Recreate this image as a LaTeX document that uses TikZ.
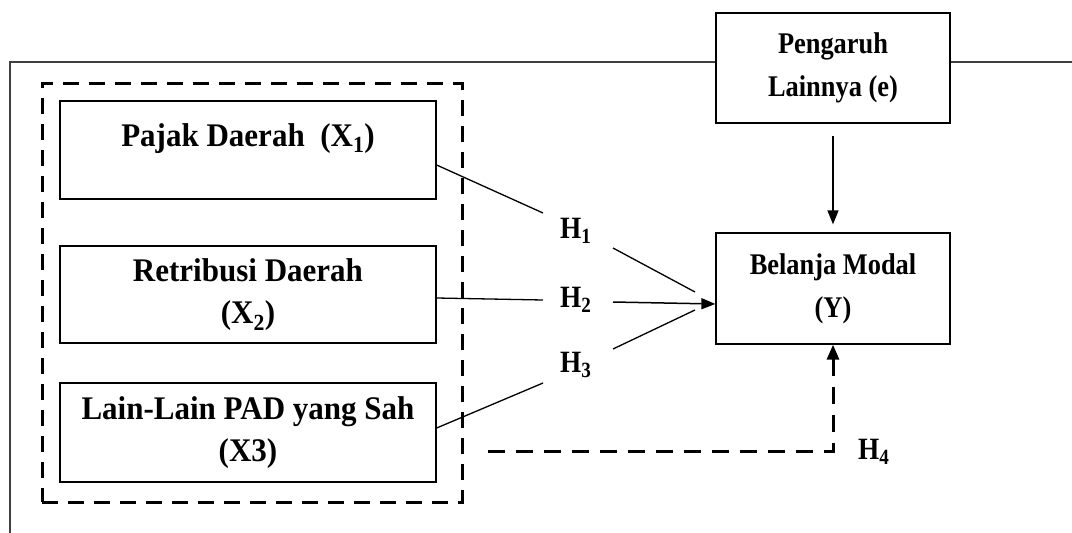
\documentclass[tikz,border=0pt]{standalone}
\usepackage{fontspec}
\setmainfont{Liberation Serif}
\newfontfamily\leftserif[FakeStretch=0.94]{Liberation Serif}
\newfontfamily\rightserif[FakeStretch=0.88]{Liberation Serif}
\usetikzlibrary{arrows.meta}
\begin{document}
\begin{tikzpicture}[x=1pt,y=-1pt,
  box/.style={draw, line width=1.3pt, fill=white, inner sep=0pt, align=center,
    minimum width=376pt, font=\leftserif\bfseries\fontsize{33}{42}\selectfont},
  rbox/.style={draw, line width=1.3pt, fill=white, inner sep=0pt, align=center,
    minimum width=234pt, font=\rightserif\bfseries\fontsize{30}{43}\selectfont},
  grpbox/.style={draw, line width=3pt, dash pattern=on 16pt off 10pt, inner sep=0pt},
  hlab/.style={inner sep=0pt, anchor=base west, font=\rightserif\bfseries\fontsize{31}{36}\selectfont},
  conn/.style={line width=1.3pt},
  arr/.style={line width=1.5pt, -{Triangle[length=14pt,width=11pt]}},
  dasharr/.style={line width=3pt, dash pattern=on 17pt off 11pt, -{Triangle[length=15pt,width=12pt]}},
  frameline/.style={line width=1.2pt, draw=black!75}]
\useasboundingbox (0,0) rectangle (1072,533);

% outer frame
\draw[frameline] (10,533) -- (10,62) -- (1072,62);

% dashed group
\node[grpbox, minimum width=420pt, minimum height=419pt] (grp) at (252,292.5) {};

% boxes
\node[box, minimum height=98pt, text height=23pt, text depth=31pt] (x1) at (248,150) {Pajak Daerah\ \ (X\textsubscript{1})};
\node[box, minimum height=97pt] (x2) at (248,294.5) {Retribusi Daerah\\(X\textsubscript{2})};
\node[box, minimum height=99pt] (x3) at (248,432.5) {Lain-Lain PAD yang Sah\\(X3)};
\node[rbox, minimum height=110pt] (pe) at (833,68) {Pengaruh\\Lainnya (e)};
\node[rbox, minimum height=111pt] (y) at (833,288.5) {Belanja Modal\\(Y)};

% hypothesis labels
\node[hlab] (h1) at (560,238) {H\textsubscript{1}};
\node[hlab] (h2) at (560,307) {H\textsubscript{2}};
\node[hlab] (h3) at (560,372) {H\textsubscript{3}};
\node[hlab] (h4) at (858,459) {H\textsubscript{4}};

% free ends
\coordinate (a1) at (543,213); \coordinate (b1) at (613,248); \coordinate (c1) at (695,292);
\coordinate (a2) at (543,300); \coordinate (b2) at (613,302);
\coordinate (a3) at (543,383); \coordinate (b3) at (613,349); \coordinate (c3) at (695,310);
\coordinate (d1) at (488,451);

% connectors
\draw[conn] ([yshift=-15pt]x1.east) -- (a1);
\draw[conn] (b1) -- (c1);
\draw[conn] ([yshift=-3.5pt]x2.east) -- (a2);
\draw[arr] (b2) -- ([yshift=-15.5pt]y.west);
\draw[conn] ([yshift=4.5pt]x3.east) -- (a3);
\draw[conn] (b3) -- (c3);
\draw[arr] ([yshift=-12pt]pe.south) -- ([yshift=8pt]y.north);
\draw[dasharr] (d1) -| (y.south);
\end{tikzpicture}
\end{document}
